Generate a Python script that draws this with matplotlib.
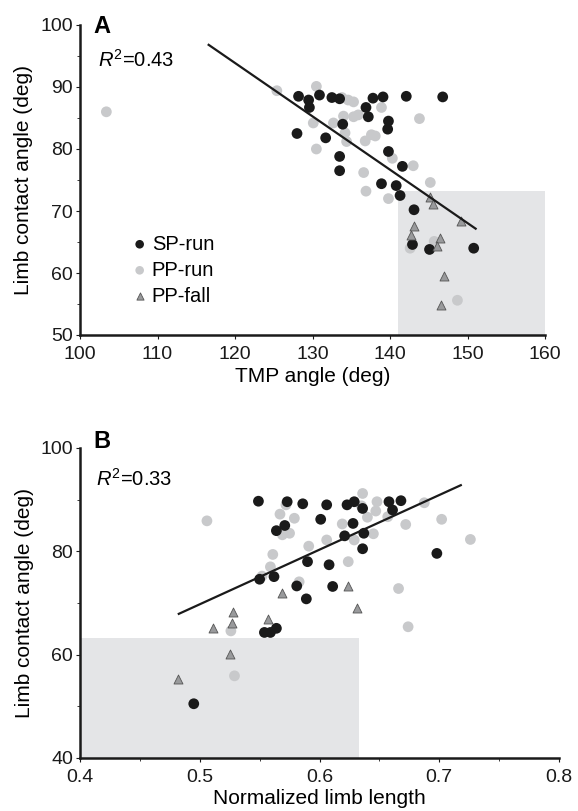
import matplotlib
matplotlib.use("Agg")
import matplotlib.pyplot as plt
import numpy as np

plt.rcParams['font.family'] = ['Liberation Sans', 'DejaVu Sans']
plt.rcParams['mathtext.fontset'] = 'custom'
plt.rcParams['mathtext.rm'] = 'Liberation Sans'
plt.rcParams['mathtext.it'] = 'Liberation Sans:italic'

# ---------------- Panel A data: TMP angle vs limb contact angle ----------------
a_sp_x = [128.2, 129.5, 130.9, 129.6, 132.5, 133.5, 137.8, 139.1, 142.1, 146.8,
          136.9, 137.2, 139.8, 139.7, 133.9, 128.0, 131.7, 139.8, 133.5, 133.5,
          141.6, 138.9, 140.8, 141.3, 143.1, 142.9, 145.1, 150.8]
a_sp_y = [88.5, 87.9, 88.7, 86.7, 88.3, 88.1, 88.2, 88.4, 88.5, 88.4,
          86.7, 85.2, 84.5, 83.2, 84.0, 82.5, 81.8, 79.6, 78.8, 76.5,
          77.2, 74.4, 74.1, 72.5, 70.2, 64.6, 63.8, 64.0]
a_pp_x = [103.4, 125.4, 130.5, 133.8, 134.6, 135.3, 138.9, 134.0, 135.3, 135.9,
          130.1, 132.7, 143.8, 134.2, 134.4, 136.8, 137.6, 138.1, 130.5, 140.3,
          143.0, 136.6, 145.2, 136.9, 139.8, 142.6, 145.7, 148.7]
a_pp_y = [86.0, 89.4, 90.1, 88.3, 87.9, 87.6, 86.7, 85.3, 85.2, 85.5,
          84.2, 84.2, 84.9, 82.6, 81.2, 81.3, 82.3, 82.1, 80.0, 78.5,
          77.3, 76.2, 74.6, 73.2, 72.0, 64.0, 65.1, 55.6]
a_fall_x = [145.2, 145.5, 149.2, 143.1, 142.7, 146.4, 146.0, 147.0, 146.6]
a_fall_y = [72.3, 71.1, 68.4, 67.6, 66.2, 65.6, 64.4, 59.5, 54.8]
a_fit_x = [116.6, 151.05]
a_fit_y = [96.8, 67.15]
a_shade_x = [141.0, 160.0]
a_shade_y = [50.0, 73.3]
a_r2 = "0.43"

# ---------------- Panel B data: normalized limb length vs limb contact angle ----------------
b_sp_x = [0.549, 0.573, 0.586, 0.606, 0.623, 0.629, 0.658, 0.668, 0.661, 0.636,
          0.601, 0.628, 0.571, 0.564, 0.637, 0.621, 0.636, 0.698, 0.590, 0.608,
          0.562, 0.550, 0.581, 0.611, 0.589, 0.554, 0.559, 0.564, 0.495]
b_sp_y = [89.7, 89.6, 89.2, 89.0, 89.0, 89.6, 89.6, 89.8, 88.0, 88.3,
          86.2, 85.4, 85.0, 84.0, 83.5, 83.0, 80.5, 79.6, 78.0, 77.4,
          75.1, 74.6, 73.3, 73.2, 70.8, 64.3, 64.3, 65.1, 50.5]
b_pp_x = [0.506, 0.572, 0.567, 0.579, 0.569, 0.575, 0.636, 0.635, 0.648, 0.647,
          0.640, 0.657, 0.6875, 0.702, 0.672, 0.619, 0.645, 0.629, 0.606, 0.591,
          0.561, 0.559, 0.552, 0.624, 0.583, 0.726, 0.666, 0.674, 0.526, 0.529]
b_pp_y = [85.9, 89.0, 87.2, 86.4, 83.2, 83.5, 91.2, 88.8, 89.6, 87.8,
          86.6, 86.7, 89.4, 86.2, 85.2, 85.3, 83.4, 82.2, 82.2, 81.0,
          79.4, 77.0, 75.2, 78.0, 74.1, 82.3, 72.8, 65.4, 64.6, 55.9]
b_fall_x = [0.569, 0.624, 0.631, 0.528, 0.527, 0.557, 0.511, 0.525, 0.482]
b_fall_y = [71.9, 73.2, 69.1, 68.3, 66.2, 67.0, 65.1, 60.1, 55.2]
b_fit_x = [0.4825, 0.718]
b_fit_y = [67.9, 92.8]
b_shade_x = [0.4, 0.633]
b_shade_y = [40.0, 63.3]
b_r2 = "0.33"

series_labels = ["SP-run", "PP-run", "PP-fall"]

W, H = 578, 811
fig = plt.figure(figsize=(W / 100, H / 100), dpi=100)

BLACK = '#1a1a1a'
GRAY = '#c8c9cb'
TRI = '#999a9c'
SHADE = '#e4e5e7'
FS_TICK = 14
FS_LAB = 15
FS_TXT = 14.5


def style(ax):
    for s in ['top', 'right']:
        ax.spines[s].set_visible(False)
    for s in ['left', 'bottom']:
        ax.spines[s].set_linewidth(1.8)
        ax.spines[s].set_color(BLACK)
    ax.tick_params(which='major', direction='out', length=3, width=0.8,
                   labelsize=FS_TICK, colors=BLACK)
    ax.tick_params(axis='x', which='major', pad=5)
    ax.tick_params(axis='y', which='major', pad=2)
    ax.tick_params(which='minor', direction='out', length=2, width=0.6, colors=BLACK)


def draw(ax, sp_x, sp_y, pp_x, pp_y, fx, fy, fit_x, fit_y, shx, shy):
    ax.add_patch(plt.Rectangle((shx[0], shy[0]), shx[1] - shx[0], shy[1] - shy[0],
                               facecolor=SHADE, edgecolor='none', zorder=0))
    ax.scatter(pp_x, pp_y, s=60, color=GRAY, edgecolors='none', zorder=2, label=series_labels[1])
    ax.scatter(sp_x, sp_y, s=60, color=BLACK, edgecolors='none', zorder=3, label=series_labels[0])
    ax.scatter(fx, fy, s=42, marker='^', color=TRI, edgecolors='#555555',
               linewidths=0.6, zorder=4, label=series_labels[2])
    ax.plot(fit_x, fit_y, color=BLACK, lw=1.6, zorder=5)


# Panel A
axA = fig.add_axes([80 / W, 1 - 335 / H, 465 / W, 310 / H])
draw(axA, a_sp_x, a_sp_y, a_pp_x, a_pp_y, a_fall_x, a_fall_y, a_fit_x, a_fit_y, a_shade_x, a_shade_y)
axA.set_xlim(100, 160)
axA.set_ylim(50, 100)
axA.set_xticks(np.arange(100, 161, 10))
axA.set_yticks(np.arange(50, 101, 10))
axA.set_yticks(np.arange(55, 100, 10), minor=True)
style(axA)
axA.set_xlabel('TMP angle (deg)', fontsize=FS_LAB, labelpad=3)
axA.set_ylabel('Limb contact angle (deg)', fontsize=FS_LAB)
axA.yaxis.set_label_coords(-0.10, 0.5)
axA.text(93 / W, 1 - 33 / H, 'A', transform=fig.transFigure, fontsize=17, fontweight='bold')
axA.text(98 / W, 1 - 67 / H, r'$R^{\mathrm{2}}$=' + a_r2, transform=fig.transFigure, fontsize=FS_TXT)
h, l = axA.get_legend_handles_labels()
order = [l.index(s) for s in series_labels]
axA.legend([h[i] for i in order], [l[i] for i in order], loc='upper left',
           bbox_to_anchor=(0.085, 0.35), frameon=False, fontsize=FS_TXT,
           handletextpad=0.0, labelspacing=0.35, borderaxespad=0, handlelength=1.2,
           markerscale=0.8)

# Panel B
axB = fig.add_axes([80 / W, 1 - 758 / H, 479 / W, 310 / H])
draw(axB, b_sp_x, b_sp_y, b_pp_x, b_pp_y, b_fall_x, b_fall_y, b_fit_x, b_fit_y, b_shade_x, b_shade_y)
axB.set_xlim(0.4, 0.8)
axB.set_ylim(40, 100)
axB.set_xticks(np.arange(0.4, 0.81, 0.1))
axB.set_xticks(np.arange(0.45, 0.8, 0.1), minor=True)
axB.set_yticks(np.arange(40, 101, 20))
axB.set_yticks(np.arange(50, 100, 20), minor=True)
style(axB)
axB.set_xticklabels(['0.4', '0.5', '0.6', '0.7', '0.8'])
axB.set_xlabel('Normalized limb length', fontsize=FS_LAB, labelpad=2)
axB.set_ylabel('Limb contact angle (deg)', fontsize=FS_LAB)
axB.yaxis.set_label_coords(-0.097, 0.5)
axB.text(93 / W, 1 - 448 / H, 'B', transform=fig.transFigure, fontsize=17, fontweight='bold')
axB.text(96 / W, 1 - 486 / H, r'$R^{\mathrm{2}}$=' + b_r2, transform=fig.transFigure, fontsize=FS_TXT)

fig.savefig('out.png', dpi=100)
